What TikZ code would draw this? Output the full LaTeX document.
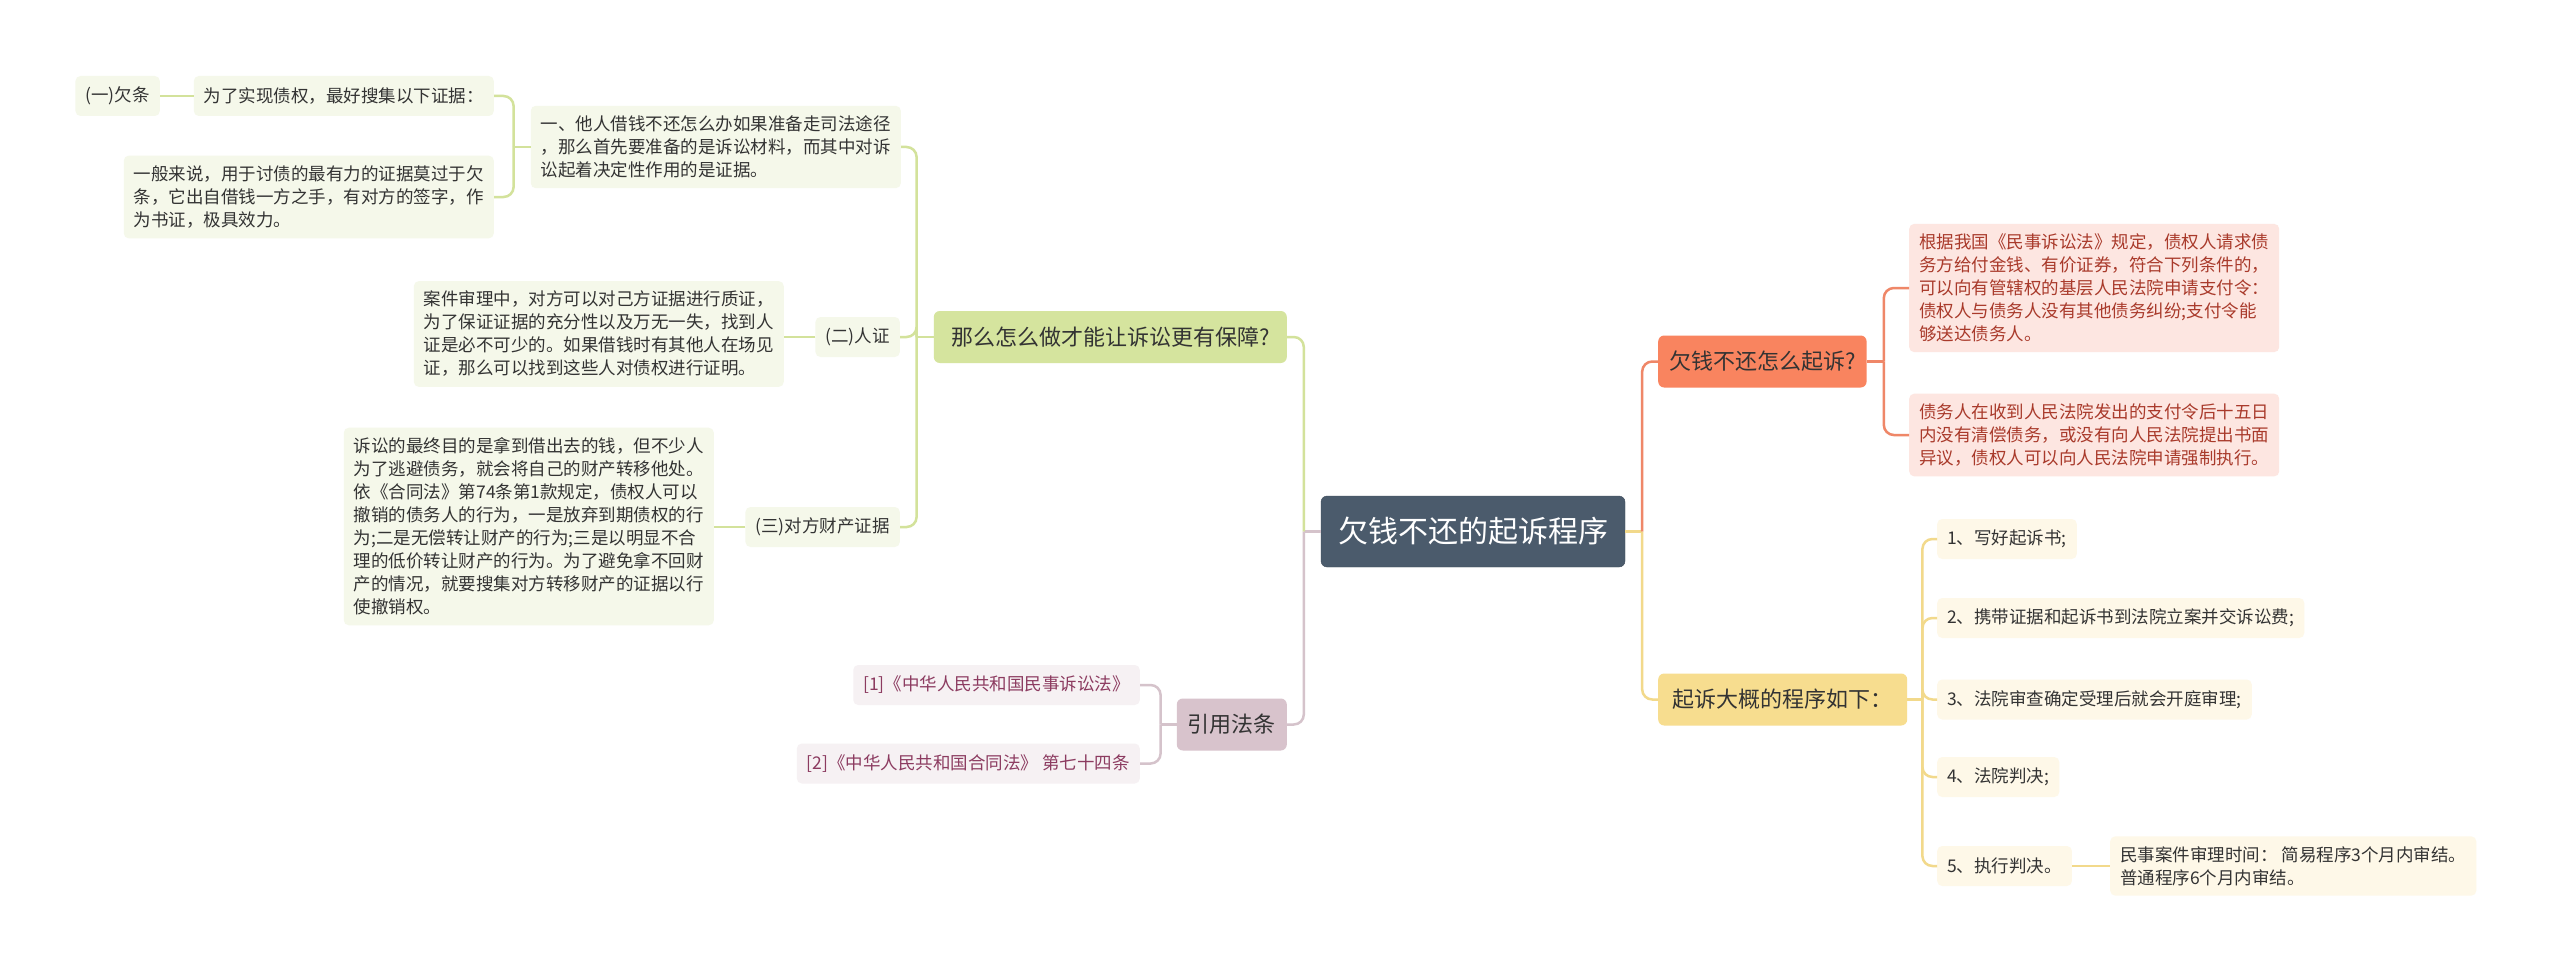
\documentclass[tikz,border=0pt]{standalone}
\usepackage{fontspec}
\setmainfont{Noto Sans CJK SC}

\definecolor{rootfill}{HTML}{4B5B6C}
\definecolor{darktext}{HTML}{333333}
\definecolor{grnfill}{HTML}{D5E49E}
\definecolor{grnleaf}{HTML}{F5F8EA}
\definecolor{grnedge}{HTML}{D3E29B}
\definecolor{orgfill}{HTML}{F9845F}
\definecolor{orgleaf}{HTML}{FDE6E1}
\definecolor{orgedge}{HTML}{EF8768}
\definecolor{orgtext}{HTML}{A93A2B}
\definecolor{ylwfill}{HTML}{F7DD8F}
\definecolor{ylwleaf}{HTML}{FEF8E8}
\definecolor{ylwedge}{HTML}{F2D98B}
\definecolor{purfill}{HTML}{D8C3CC}
\definecolor{purleaf}{HTML}{F6F1F3}
\definecolor{puredge}{HTML}{D5C3CB}
\definecolor{purtext}{HTML}{8C3B60}

\newcommand{\leaffont}{\fontsize{17.5}{23}\selectfont}
\newcommand{\topicfont}{\fontsize{22}{26}\selectfont}

\begin{document}
\begin{tikzpicture}[x=1pt,y=-1pt,
    every node/.style={align=left, text=darktext},
    rootbox/.style={fill=rootfill, draw=rootfill!85!black, text=white, rounded corners=6pt,
        font=\fontsize{30}{34}\selectfont, inner xsep=17pt, minimum height=71pt},
    topic/.style={rounded corners=6pt, font=\topicfont, inner xsep=11pt, minimum height=52pt},
    leaf/.style={rounded corners=5pt, font=\leaffont, inner xsep=10pt, inner ysep=10pt, minimum height=40pt},
    grnline/.style={draw=grnedge, line width=2.5pt, rounded corners=10pt},
    orgline/.style={draw=orgedge, line width=2.5pt, rounded corners=10pt},
    ylwline/.style={draw=ylwedge, line width=2.5pt, rounded corners=10pt},
    purline/.style={draw=puredge, line width=2.5pt, rounded corners=10pt}]

    % Canvas
    \fill[white] (0,0) rectangle (2560,971);
    \useasboundingbox (0,0) rectangle (2560,971);

    % Root topic
    \node[rootbox] (root) at (1473,531.5) {欠钱不还的起诉程序};

    % Left branch: how to make the lawsuit safer
    \node[topic, fill=grnfill, anchor=east, minimum width=353pt] (green) at (1287,337) {那么怎么做才能让诉讼更有保障?};
    \node[leaf, fill=grnleaf, anchor=east] (g1) at (901,147) {一、他人借钱不还怎么办如果准备走司法途径\\，那么首先要准备的是诉讼材料，而其中对诉\\讼起着决定性作用的是证据。};
    \node[leaf, fill=grnleaf, anchor=east] (g2) at (900,337) {(二)人证};
    \node[leaf, fill=grnleaf, anchor=east] (g3) at (900,527) {(三)对方财产证据};
    \node[leaf, fill=grnleaf, anchor=east] (g11) at (494,96) {为了实现债权，最好搜集以下证据：};
    \node[leaf, fill=grnleaf, anchor=east] (g111) at (160,96) {(一)欠条};
    \node[leaf, fill=grnleaf, anchor=east] (g12) at (494,197) {一般来说，用于讨债的最有力的证据莫过于欠\\条，它出自借钱一方之手，有对方的签字，作\\为书证，极具效力。};
    \node[leaf, fill=grnleaf, anchor=east] (g21) at (784,334) {案件审理中，对方可以对己方证据进行质证，\\为了保证证据的充分性以及万无一失，找到人\\证是必不可少的。如果借钱时有其他人在场见\\证，那么可以找到这些人对债权进行证明。};
    \node[leaf, fill=grnleaf, anchor=east] (g31) at (714,526.5) {诉讼的最终目的是拿到借出去的钱，但不少人\\为了逃避债务，就会将自己的财产转移他处。\\依《合同法》第74条第1款规定，债权人可以\\撤销的债务人的行为，一是放弃到期债权的行\\为;二是无偿转让财产的行为;三是以明显不合\\理的低价转让财产的行为。为了避免拿不回财\\产的情况，就要搜集对方转移财产的证据以行\\使撤销权。};

    % Left branch: cited laws
    \node[topic, fill=purfill, anchor=east] (purple) at (1287,724.5) {引用法条};
    \node[leaf, fill=purleaf, text=purtext, anchor=east] (p1) at (1140,685) {[1]《中华人民共和国民事诉讼法》};
    \node[leaf, fill=purleaf, text=purtext, anchor=east] (p2) at (1140,763.5) {[2]《中华人民共和国合同法》 第七十四条};

    % Right branch: how to sue
    \node[topic, fill=orgfill, anchor=west] (orange) at (1658,361.5) {欠钱不还怎么起诉?};
    \node[leaf, fill=orgleaf, text=orgtext, anchor=west] (o1) at (1909,288) {根据我国《民事诉讼法》规定，债权人请求债\\务方给付金钱、有价证券，符合下列条件的，\\可以向有管辖权的基层人民法院申请支付令：\\债权人与债务人没有其他债务纠纷;支付令能\\够送达债务人。};
    \node[leaf, fill=orgleaf, text=orgtext, anchor=west] (o2) at (1909,435) {债务人在收到人民法院发出的支付令后十五日\\内没有清偿债务，或没有向人民法院提出书面\\异议，债权人可以向人民法院申请强制执行。};

    % Right branch: procedure steps
    \node[topic, fill=ylwfill, anchor=west, minimum width=249pt] (yellow) at (1658,699.5) {起诉大概的程序如下：};
    \node[leaf, fill=ylwleaf, anchor=west] (y1) at (1937,539) {1、写好起诉书;};
    \node[leaf, fill=ylwleaf, anchor=west] (y2) at (1937,618) {2、携带证据和起诉书到法院立案并交诉讼费;};
    \node[leaf, fill=ylwleaf, anchor=west] (y3) at (1937,699.5) {3、法院审查确定受理后就会开庭审理;};
    \node[leaf, fill=ylwleaf, anchor=west] (y4) at (1937,777) {4、法院判决;};
    \node[leaf, fill=ylwleaf, anchor=west] (y5) at (1937,866) {5、执行判决。};
    \node[leaf, fill=ylwleaf, anchor=west] (y51) at (2110,866) {民事案件审理时间： 简易程序3个月内审结。\\普通程序6个月内审结。};

    % Connectors from the root
    \draw[purline] (root.west) -- ++(-17,0) coordinate (lsp);
    \draw[grnline] (lsp) |- (green.east);
    \draw[purline] (lsp) |- (purple.east);
    \draw[ylwline] (root.east) -- ++(17,0) coordinate (rsp);
    \draw[orgline] (rsp) |- (orange.west);
    \draw[ylwline] (rsp) |- (yellow.west);

    % Connectors on the green branch
    \draw[grnline] (green.west) -- ++(-17,0) coordinate (gsp);
    \draw[grnline] (gsp) |- (g1.east);
    \draw[grnline] (gsp) |- (g2.east);
    \draw[grnline] (gsp) |- (g3.east);
    \draw[grnline] (g1.west) -- ++(-17,0) coordinate (g1sp);
    \draw[grnline] (g1sp) |- (g11.east);
    \draw[grnline] (g1sp) |- (g12.east);
    \draw[grnline] (g11.west) -- (g11.west -| g111.east);
    \draw[grnline] (g2.west) -- (g2.west -| g21.east);
    \draw[grnline] (g3.west) -- (g3.west -| g31.east);

    % Connectors on the purple branch
    \draw[purline] (purple.west) -- ++(-16,0) coordinate (psp);
    \draw[purline] (psp) |- (p1.east);
    \draw[purline] (psp) |- (p2.east);

    % Connectors on the orange branch
    \draw[orgline] (orange.east) -- ++(17,0) coordinate (osp);
    \draw[orgline] (osp) |- (o1.west);
    \draw[orgline] (osp) |- (o2.west);

    % Connectors on the yellow branch
    \draw[ylwline] (yellow.east) -- ++(15,0) coordinate (ysp);
    \foreach \k in {1,...,5}
        \draw[ylwline] (ysp) |- (y\k.west);
    \draw[ylwline] (y5.east) -- (y5.east -| y51.west);
\end{tikzpicture}
\end{document}
